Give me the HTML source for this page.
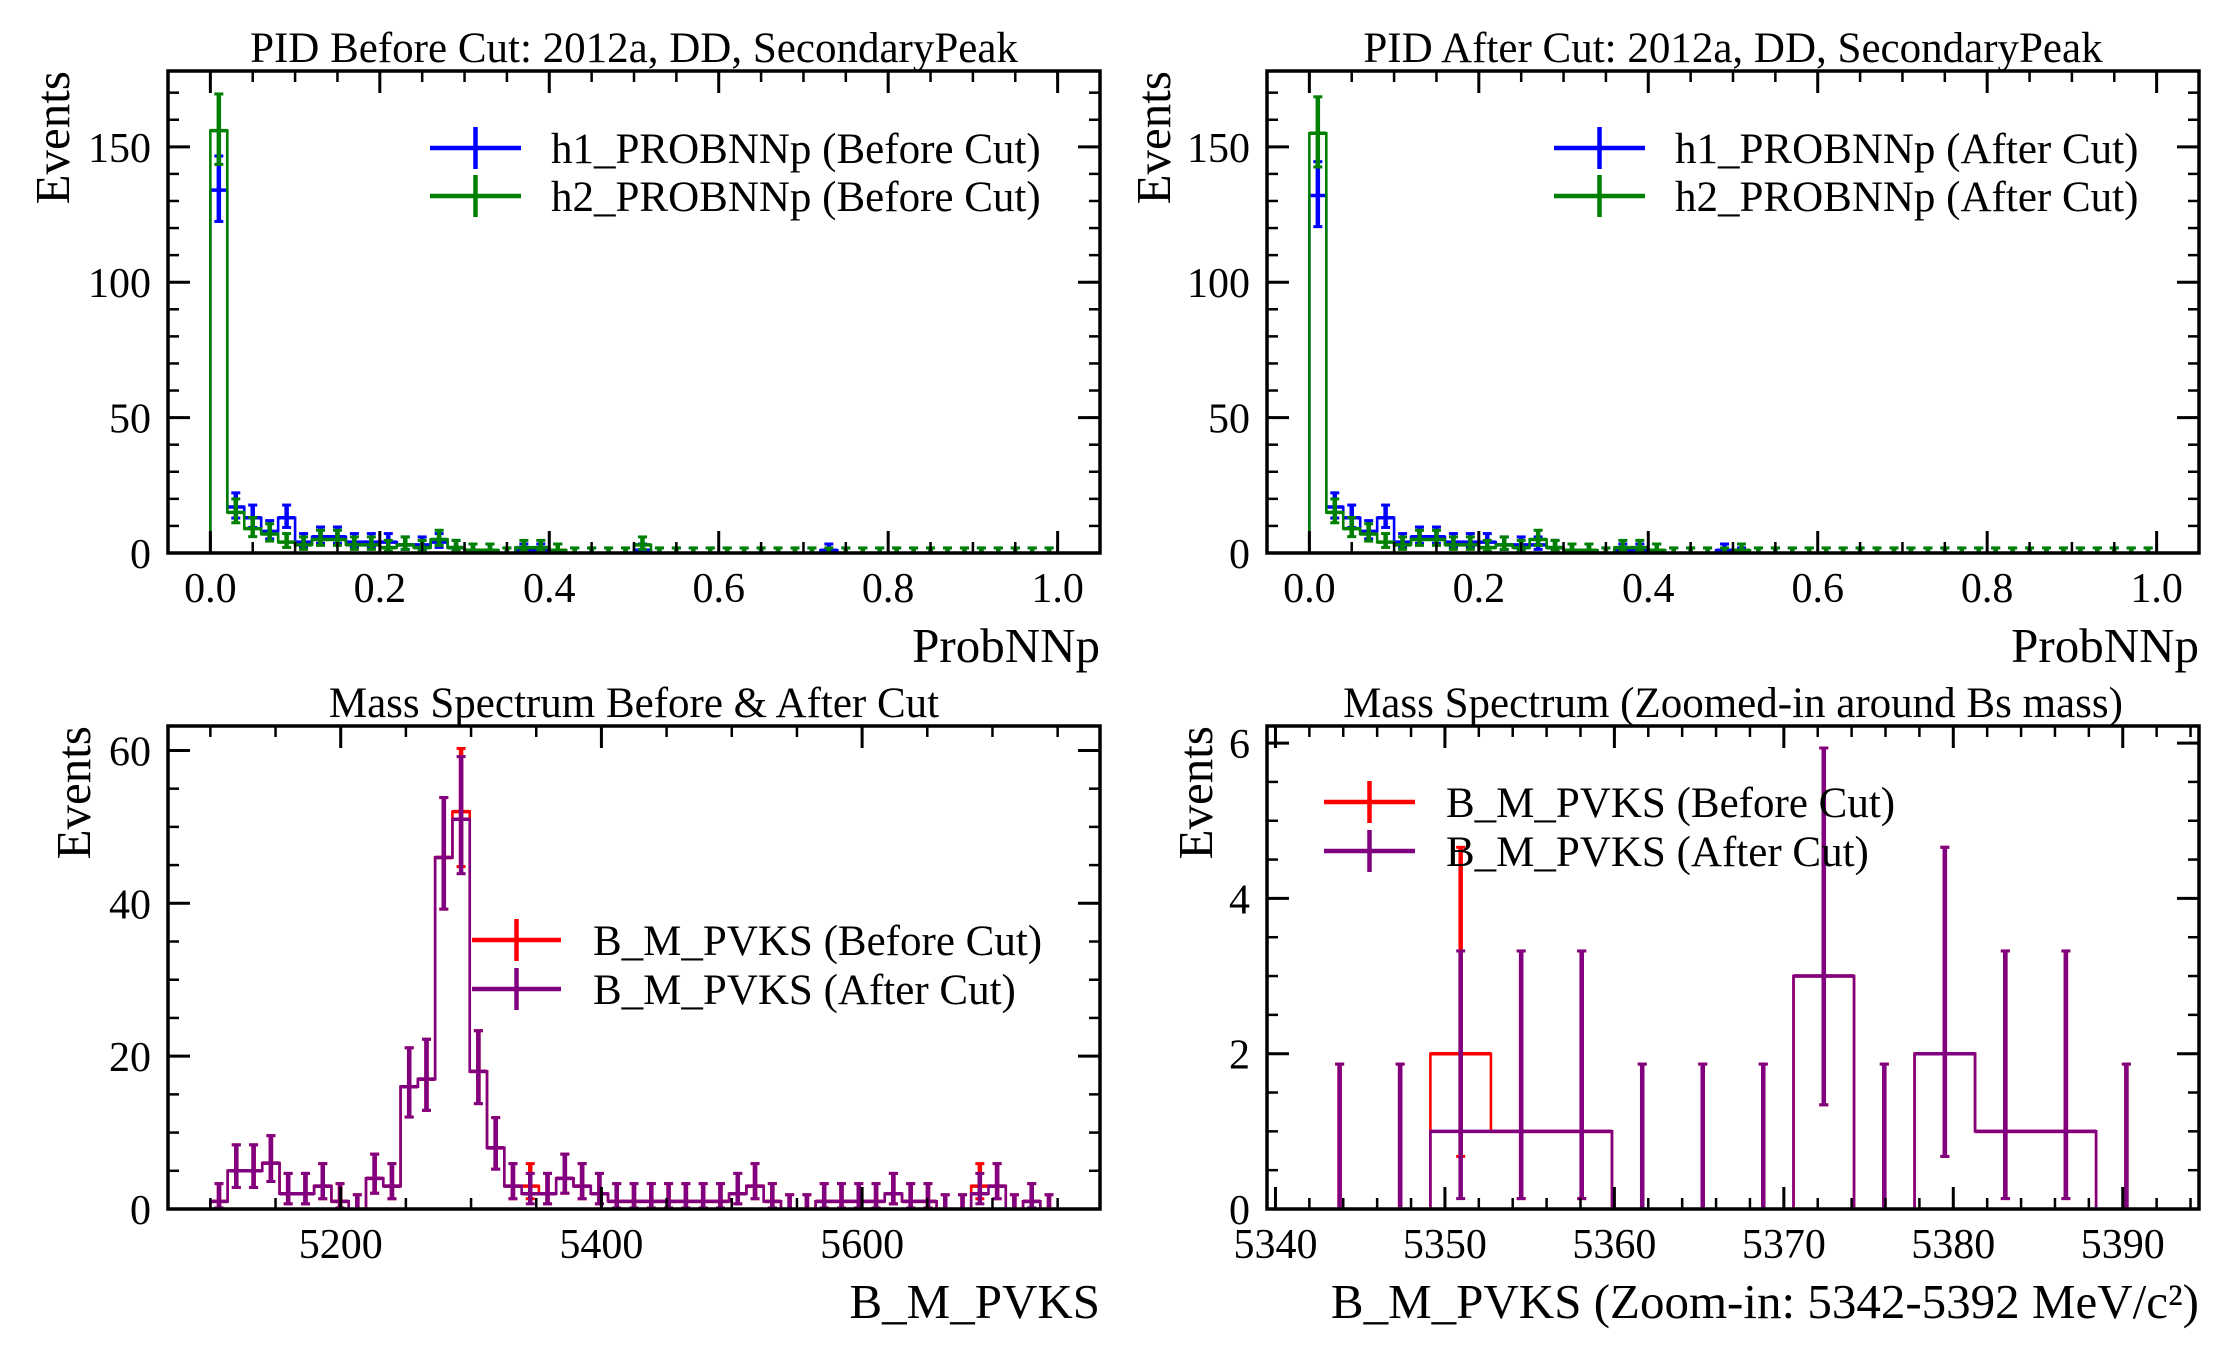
<!DOCTYPE html>
<html><head><meta charset="utf-8"><title>PID and Mass Spectrum</title>
<style>
html,body{margin:0;padding:0;background:#fff;}
svg{display:block;font-family:"Liberation Serif","DejaVu Serif",serif;}
</style></head>
<body>
<svg id="fig" width="2232" height="1350" viewBox="0 0 2232 1350" xmlns="http://www.w3.org/2000/svg"></svg>
<script>
// ---------- data ----------
const pidBinEdgesStart = 0, pidBinWidth = 0.02, pidBinCount = 50;
const h1Before = [134,17,13,8,13,4,6,6,4,4,4,3,3,4,2,1,1,0,1,1,1,0,0,0,0,1,0,0,0,0,0,0,0,0,0,0,1,0,0,0,0,0,0,0,0,0,0,0,0,0];
const h2Before = [156,15,9,7,4,3,5,5,3,3,2,3,2,5,2,1,1,0,2,2,1,0,0,0,0,3,0,0,0,0,0,0,0,0,0,0,0,0,0,0,0,0,0,0,0,0,0,0,0,0];
const h1After  = [132,17,13,8,13,4,6,6,4,4,4,3,3,3,2,1,1,0,1,1,1,0,0,0,1,0,0,0,0,0,0,0,0,0,0,0,0,0,0,0,0,0,0,0,0,0,0,0,0,0];
const h2After  = [155,15,9,7,4,3,5,5,3,3,2,3,2,5,2,1,1,0,2,2,1,0,0,0,0,1,0,0,0,0,0,0,0,0,0,0,0,0,0,0,0,0,0,0,0,0,0,0,0,0];
const pidXTicks = [0,0.2,0.4,0.6,0.8,1.0];
const pidXTickLabels = ["0.0","0.2","0.4","0.6","0.8","1.0"];
const pidYTicks = [0,50,100,150];

const massLo = 5100, massHi = 5750, massBinCount = 49;
const massBefore = [1,5,5,6,2,2,3,1,0,4,3,16,17,46,52,18,8,3,3,2,4,3,2,1,1,1,1,1,1,1,2,3,1,0,0,1,1,1,1,2,1,1,0,0,3,3,0,1,0];
const massAfter  = [1,5,5,6,2,2,3,1,0,4,3,16,17,46,51,18,8,3,2,2,4,3,2,1,1,1,1,1,1,1,2,3,1,0,0,1,1,1,1,2,1,1,0,0,2,3,0,1,0];
const massXTicks = [5200,5400,5600];
const massYTicks = [0,20,40,60];

const zoomLo = 5342, zoomHi = 5392, zoomBinCount = 14;
const zoomBefore = [0,0,2,1,1,0,0,0,3,0,2,1,1,0];
const zoomAfter  = [0,0,1,1,1,0,0,0,3,0,2,1,1,0];
const zoomXTicks = [5340,5350,5360,5370,5380,5390];
const zoomYTicks = [0,2,4,6];

// ---------- helpers ----------
const NS = "http://www.w3.org/2000/svg";
const svg = document.getElementById('fig');
function mk(tag, attrs, parent){
  const e = document.createElementNS(NS, tag);
  for (const k in attrs) e.setAttribute(k, attrs[k]);
  (parent||svg).appendChild(e);
  return e;
}
function errUp(n){ return n + Math.sqrt(n+0.75) + 1; }
function errLo(n){ return n <= 0 ? 0 : n - Math.sqrt(n-0.25); }

function panel(cfg){
  const g = mk('g', {});
  
  
  const L=cfg.left,R=cfg.right,T=cfg.top,B=cfg.bottom;
  const sx = v => L + (v-cfg.xmin)/(cfg.xmax-cfg.xmin)*(R-L);
  const sy = v => B - (v-cfg.ymin)/(cfg.ymax-cfg.ymin)*(B-T);
  const clipId = 'clip-'+cfg.name;
  const cp = mk('clipPath', {id: clipId}, g);
  mk('rect', {x:L, y:T, width:R-L, height:B-T}, cp);
  const plot = mk('g', {'clip-path':'url(#'+clipId+')'}, g);

  cfg.series.forEach(s => {
    const n = s.values.length, w = (s.hi - s.lo)/n;
    let d = 'M'+sx(s.lo)+','+sy(0);
    for (let i=0;i<n;i++){
      d += ' V'+sy(s.values[i])+' H'+sx(s.lo+(i+1)*w);
    }
    d += ' V'+sy(0);
    const p = mk('path', {d:d, fill:'none', stroke:s.color, 'stroke-width':2.6}, plot);
    
    
    for (let i=0;i<n;i++){
      const v = s.values[i];
      const cx = sx(s.lo+(i+0.5)*w);
      const eb = mk('g', {stroke:s.color}, plot);
      
      
      const y1 = sy(errLo(v)), y2 = sy(errUp(v));
      mk('line', {x1:cx, x2:cx, y1:y1, y2:y2, 'stroke-width':4.5}, eb);
      mk('line', {x1:cx-4.5, x2:cx+4.5, y1:y1, y2:y1, 'stroke-width':3}, eb);
      mk('line', {x1:cx-4.5, x2:cx+4.5, y1:y2, y2:y2, 'stroke-width':3}, eb);
      if (v>0) mk('line', {x1:sx(s.lo+i*w), x2:sx(s.lo+(i+1)*w), y1:sy(v), y2:sy(v), 'stroke-width':3.5}, eb);
    }
  });

  const fr = mk('rect', {x:L, y:T, width:R-L, height:B-T, fill:'none', stroke:'#000', 'stroke-width':3.5}, g);
  
  

  const tk = mk('g', {stroke:'#000'}, g);
  
  
  for (let v=cfg.xminorStart; v<=cfg.xmax+1e-9; v+=cfg.xminor){
    if (v < cfg.xmin) continue;
    const x = sx(v);
    mk('line',{x1:x,x2:x,y1:B,y2:B-11,'stroke-width':2.5},tk);
    mk('line',{x1:x,x2:x,y1:T,y2:T+11,'stroke-width':2.5},tk);
  }
  for (let v=cfg.ymin; v<=cfg.ymax+1e-9; v+=cfg.yminor){
    const y = sy(v);
    mk('line',{x1:L,x2:L+11,y1:y,y2:y,'stroke-width':2.5},tk);
    mk('line',{x1:R,x2:R-11,y1:y,y2:y,'stroke-width':2.5},tk);
  }
  cfg.xticks.forEach((v,i)=>{
    const x = sx(v);
    mk('line',{x1:x,x2:x,y1:B,y2:B-22,'stroke-width':3},tk);
    mk('line',{x1:x,x2:x,y1:T,y2:T+22,'stroke-width':3},tk);
    const t = mk('text',{x:x,y:B+49,'text-anchor':'middle','font-size':42},g);
    
    
    t.textContent = cfg.xtickLabels ? cfg.xtickLabels[i] : String(v);
  });
  cfg.yticks.forEach(v=>{
    const y = sy(v);
    mk('line',{x1:L,x2:L+22,y1:y,y2:y,'stroke-width':3},tk);
    mk('line',{x1:R,x2:R-22,y1:y,y2:y,'stroke-width':3},tk);
    const t = mk('text',{x:L-17,y:y+15,'text-anchor':'end','font-size':42},g);
    
    
    t.textContent = String(v);
  });

  const ti = mk('text',{x:(L+R)/2,y:T-9,'text-anchor':'middle','font-size':43},g);
  
  
  ti.textContent = cfg.title;
  const xl = mk('text',{x:R,y:B+109,'text-anchor':'end','font-size':49},g);
  
  
  xl.textContent = cfg.xlabel;
  const yl = mk('text',{x:0,y:0,'text-anchor':'end','font-size':49,transform:'translate('+cfg.ylabelX+','+T+') rotate(-90)'},g);
  
  
  yl.textContent = 'Events';

  const lg = mk('g',{},g);
  
  
  cfg.series.forEach((s,i)=>{
    const y = cfg.legY + i*cfg.legDY;
    const le = mk('g',{},lg);
    
    
    const cx = (cfg.legX1+cfg.legX2)/2;
    mk('line',{x1:cfg.legX1,x2:cfg.legX2,y1:y,y2:y,stroke:s.color,'stroke-width':4.5},le);
    mk('line',{x1:cx,x2:cx,y1:y-21,y2:y+21,stroke:s.color,'stroke-width':4.5},le);
    const t = mk('text',{x:cfg.legText,y:y+15,'font-size':43},le);
    t.textContent = s.label;
  });
}

panel({name:'pid-before-panel', left:168,right:1100,top:71,bottom:553,
  xmin:-0.05,xmax:1.05,ymin:0,ymax:178, xminor:0.05, xminorStart:0, yminor:10,
  xticks:pidXTicks, xtickLabels:pidXTickLabels, yticks:pidYTicks,
  title:'PID Before Cut: 2012a, DD, SecondaryPeak', xlabel:'ProbNNp', ylabelX:69,
  legX1:430, legX2:521, legText:551, legY:148, legDY:48,
  series:[
    {key:'h1-before', values:h1Before, lo:pidBinEdgesStart, hi:pidBinEdgesStart+pidBinWidth*pidBinCount, color:'#0000ff', label:'h1_PROBNNp (Before Cut)'},
    {key:'h2-before', values:h2Before, lo:pidBinEdgesStart, hi:pidBinEdgesStart+pidBinWidth*pidBinCount, color:'#008000', label:'h2_PROBNNp (Before Cut)'}
  ]});
panel({name:'pid-after-panel', left:1267,right:2199,top:71,bottom:553,
  xmin:-0.05,xmax:1.05,ymin:0,ymax:178, xminor:0.05, xminorStart:0, yminor:10,
  xticks:pidXTicks, xtickLabels:pidXTickLabels, yticks:pidYTicks,
  title:'PID After Cut: 2012a, DD, SecondaryPeak', xlabel:'ProbNNp', ylabelX:1170,
  legX1:1554, legX2:1645, legText:1675, legY:148, legDY:48,
  series:[
    {key:'h1-after', values:h1After, lo:pidBinEdgesStart, hi:pidBinEdgesStart+pidBinWidth*pidBinCount, color:'#0000ff', label:'h1_PROBNNp (After Cut)'},
    {key:'h2-after', values:h2After, lo:pidBinEdgesStart, hi:pidBinEdgesStart+pidBinWidth*pidBinCount, color:'#008000', label:'h2_PROBNNp (After Cut)'}
  ]});
panel({name:'mass-panel', left:168,right:1100,top:726,bottom:1209,
  xmin:5067.5,xmax:5782.5,ymin:0,ymax:63.2, xminor:50, xminorStart:5100, yminor:5,
  xticks:massXTicks, yticks:massYTicks,
  title:'Mass Spectrum Before & After Cut', xlabel:'B_M_PVKS', ylabelX:90,
  legX1:472, legX2:561, legText:593, legY:940, legDY:49,
  series:[
    {key:'mass-before', values:massBefore, lo:massLo, hi:massHi, color:'#ff0000', label:'B_M_PVKS (Before Cut)'},
    {key:'mass-after', values:massAfter, lo:massLo, hi:massHi, color:'#800080', label:'B_M_PVKS (After Cut)'}
  ]});
panel({name:'zoom-mass-panel', left:1267,right:2199,top:726,bottom:1209,
  xmin:5339.5,xmax:5394.5,ymin:0,ymax:6.22, xminor:2, xminorStart:5340, yminor:0.5,
  xticks:zoomXTicks, yticks:zoomYTicks,
  title:'Mass Spectrum (Zoomed-in around Bs mass)', xlabel:'B_M_PVKS (Zoom-in: 5342-5392 MeV/c\u00b2)', ylabelX:1212,
  legX1:1324, legX2:1415, legText:1446, legY:802, legDY:49,
  series:[
    {key:'zoom-before', values:zoomBefore, lo:zoomLo, hi:zoomHi, color:'#ff0000', label:'B_M_PVKS (Before Cut)'},
    {key:'zoom-after', values:zoomAfter, lo:zoomLo, hi:zoomHi, color:'#800080', label:'B_M_PVKS (After Cut)'}
  ]});
</script>
</body></html>
